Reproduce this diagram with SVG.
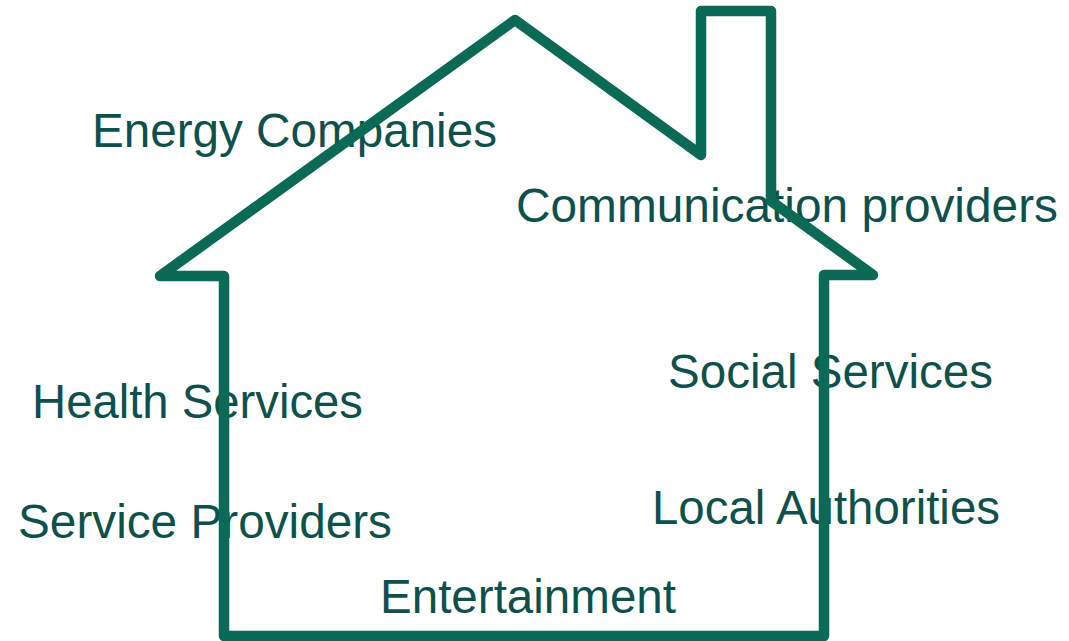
<svg xmlns="http://www.w3.org/2000/svg" width="1069" height="641" viewBox="0 0 1069 641">
  <style>
    .lbl { font-family: "Liberation Sans", Arial, sans-serif; font-size: 47.5px; fill: #0e504b; }
    .house { fill: none; stroke: #0b6a56; stroke-width: 10.5; stroke-linejoin: round; stroke-linecap: round; }
  </style>
  <rect width="1069" height="641" fill="#ffffff"/>
  <g id="labels">
    <g id="energy"><text class="lbl" x="92" y="147" textLength="405" lengthAdjust="spacingAndGlyphs">Energy Companies</text></g>
    <g id="communication"><text class="lbl" x="516" y="222" textLength="542" lengthAdjust="spacingAndGlyphs">Communication providers</text></g>
    <g id="social"><text class="lbl" x="668" y="388" textLength="325" lengthAdjust="spacingAndGlyphs">Social Services</text></g>
    <g id="health"><text class="lbl" x="32" y="418" textLength="331" lengthAdjust="spacingAndGlyphs">Health Services</text></g>
    <g id="local"><text class="lbl" x="652" y="524" textLength="348" lengthAdjust="spacingAndGlyphs">Local Authorities</text></g>
    <g id="service"><text class="lbl" x="18" y="538" textLength="374" lengthAdjust="spacingAndGlyphs">Service Providers</text></g>
    <g id="entertainment"><text class="lbl" x="380" y="613" textLength="296" lengthAdjust="spacingAndGlyphs">Entertainment</text></g>
  </g>
  <g id="house">
    <path class="house" d="M224,636 L224,276 L160,276 L515,20 L701,155 L701,11 L771,11 L771,201 L873,275 L824,275 L824,636 Z"/>
  </g>
</svg>
